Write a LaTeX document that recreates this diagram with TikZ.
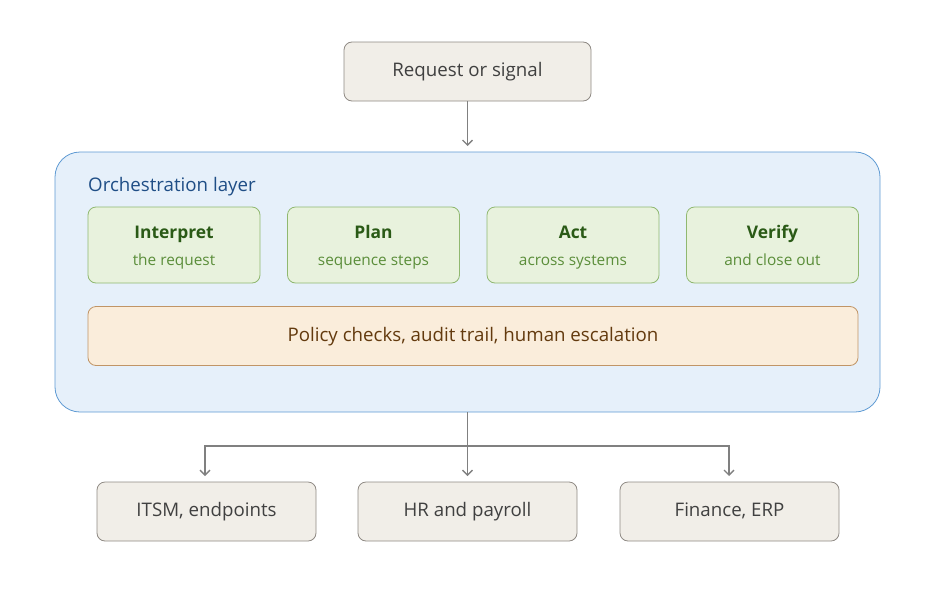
\documentclass[tikz,border=0pt]{standalone}
\usepackage{fontspec}
\setmainfont{Open Sans}
\usetikzlibrary{arrows.meta}
\definecolor{gfill}{HTML}{F1EEE8}
\definecolor{gline}{HTML}{8F8A84}
\definecolor{gtext}{HTML}{404040}
\definecolor{bfill}{HTML}{E6F0FA}
\definecolor{bline}{HTML}{5E9AD3}
\definecolor{btext}{HTML}{1F4E86}
\definecolor{grfill}{HTML}{E8F2DD}
\definecolor{grline}{HTML}{90B870}
\definecolor{grtitle}{HTML}{2A5A16}
\definecolor{grsub}{HTML}{5B8E3A}
\definecolor{ofill}{HTML}{FAEDDB}
\definecolor{oline}{HTML}{C19566}
\definecolor{otext}{HTML}{633A0E}
\definecolor{arr}{HTML}{808080}
\begin{document}
\begin{tikzpicture}[x=1pt,y=-1pt,
  mainfont/.style={font=\fontsize{18.7}{21}\selectfont},
  txt/.style={text height=1.04em,text depth=0pt},
  graybox/.style={draw=gline,fill=gfill,rounded corners=8pt,line width=0.8pt,text=gtext,mainfont,inner sep=0pt,txt},
  stepbox/.style={draw=grline,fill=grfill,rounded corners=8pt,line width=0.8pt,minimum width=172pt,minimum height=76pt,inner sep=0pt},
  conn/.style={draw=arr,line width=1.3pt,-{Straight Barb[length=5pt,width=10pt,line width=1.3pt]}},
  line/.style={draw=arr,line width=1.3pt}]
\useasboundingbox (0,0) rectangle (936,597);
\node[graybox,minimum width=247pt,minimum height=59pt] (req) at (467.5,71.5) {Request or signal};
\node[draw=bline,fill=bfill,rounded corners=25pt,line width=0.8pt,minimum width=825pt,minimum height=260pt] (orch) at (467.5,282) {};
\node[anchor=west,text=btext,mainfont,inner sep=0pt,txt] (otitle) at (88,186) {Orchestration layer};
\foreach \n/\x/\t/\s in {interp/174/Interpret/the request, plan/373.5/Plan/sequence steps, act/573/Act/across systems, verify/772.5/Verify/and close out}{
  \node[stepbox] (\n) at (\x,245) {};
  \node[text=grtitle,font=\fontsize{17.4}{20}\selectfont\bfseries,inner sep=0pt,txt] (\n t) at (\x,233) {\t};
  \node[text=grsub,font=\fontsize{15.4}{18}\selectfont,inner sep=0pt,txt] (\n s) at (\x,260) {\s};
}
\node[draw=oline,fill=ofill,rounded corners=8pt,line width=0.8pt,minimum width=770pt,minimum height=59pt,text=otext,mainfont,inner sep=0pt,txt] (policy) at (473,336) {Policy checks, audit trail, human escalation};
\node[graybox,minimum width=219pt,minimum height=59pt] (itsm) at (206.5,511.5) {ITSM, endpoints};
\node[graybox,minimum width=219pt,minimum height=59pt] (hr) at (467.5,511.5) {HR and payroll};
\node[graybox,minimum width=219pt,minimum height=59pt] (fin) at (729.5,511.5) {Finance, ERP};
\coordinate (top) at (467.5,146);
\draw[conn] (req.south) -- (top);
\coordinate (split) at (467.5,446);
\coordinate (l) at (205,446);
\coordinate (r) at (729,446);
\coordinate (le) at (205,476);
\coordinate (me) at (467.5,476);
\coordinate (re) at (729,476);
\draw[line] (orch.south) -- (split);
\draw[conn] (split) -- (l) -- (le);
\draw[conn] (split) -- (r) -- (re);
\draw[conn] (split) -- (me);
\end{tikzpicture}
\end{document}
